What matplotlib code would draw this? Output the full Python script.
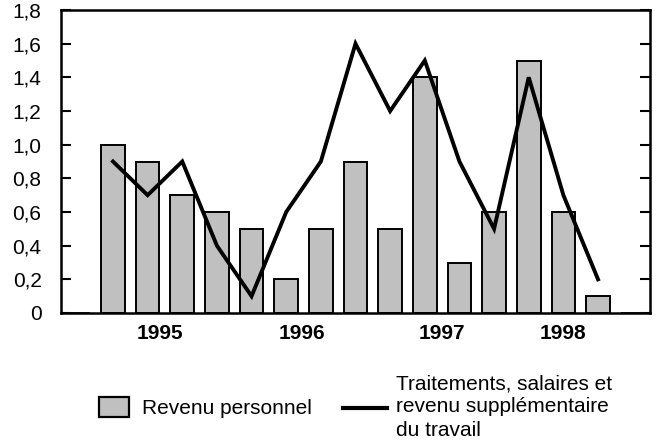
import matplotlib.pyplot as plt
from matplotlib.patches import Rectangle
from matplotlib.lines import Line2D

plt.rcParams['font.family'] = ['Liberation Sans', 'DejaVu Sans']

# quarterly values, empty slot at each end
revenu = [0, 1.0, 0.9, 0.7, 0.6, 0.5, 0.2, 0.5, 0.9, 0.5, 1.4, 0.3, 0.6, 1.5, 0.6, 0.1, 0]
traitements = [0.9, 0.7, 0.9, 0.4, 0.1, 0.6, 0.9, 1.6, 1.2, 1.5, 0.9, 0.5, 1.4, 0.7, 0.2]
years = ['1995', '1996', '1997', '1998']
year_pos = [2.36, 6.44, 10.48, 13.98]
yticks = [0, 0.2, 0.4, 0.6, 0.8, 1.0, 1.2, 1.4, 1.6, 1.8]
ylabels = ['0', '0,2', '0,4', '0,6', '0,8', '1,0', '1,2', '1,4', '1,6', '1,8']

fs = 15
W, H = 660, 446

fig = plt.figure(figsize=(6.6, 4.46), dpi=100)
ax = fig.add_axes([61 / W, 1 - 313 / H, 589 / W, 303 / H])

xb = list(range(len(revenu)))
ax.bar(xb, revenu, width=0.68, color='#c0c0c0', edgecolor='black', linewidth=1.4, zorder=2)
for i in (0, len(revenu) - 1):
    ax.plot([i - 0.33, i + 0.33], [0, 0], color='#c8c8c8', lw=1, zorder=2)
xl = list(range(1, 1 + len(traitements)))
ax.plot(xl, traitements, color='black', lw=2.8, solid_joinstyle='miter', zorder=3)

ax.set_xlim(-0.5, len(revenu) - 0.5)
ax.set_ylim(0, 1.8)
ax.set_yticks(yticks)
ax.set_yticklabels(ylabels, fontsize=fs)
ax.tick_params(axis='y', direction='in', length=7, width=1.5, right=True, pad=14)
ax.set_xticks(year_pos)
ax.set_xticklabels(years, fontsize=fs, fontweight='bold')
ax.tick_params(axis='x', length=0, pad=8)
for s in ax.spines.values():
    s.set_linewidth(1.8)

# legend
fig.patches.append(Rectangle((99 / W, 1 - 417 / H), 30 / W, 20 / H,
                             transform=fig.transFigure, facecolor='#c0c0c0',
                             edgecolor='black', linewidth=1.6))
fig.text(142 / W, 1 - 409 / H, 'Revenu personnel', fontsize=fs, va='center')
fig.lines.append(Line2D([343 / W, 387 / W], [1 - 408 / H, 1 - 408 / H],
                        transform=fig.transFigure, color='black', lw=3))
fig.text(396 / W, 1 - 407 / H,
         'Traitements, salaires et\nrevenu supplémentaire\ndu travail',
         fontsize=fs, va='center', linespacing=1.3)

fig.savefig('out.png', dpi=100)
